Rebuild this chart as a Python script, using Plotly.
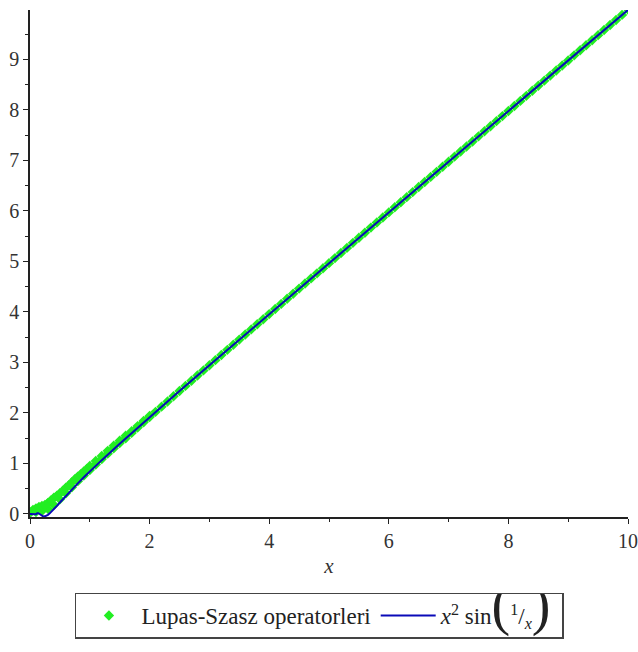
import plotly.graph_objects as go

# Blue curve x^2 sin(1/x)
curve_x = [0, 0.02, 0.04, 0.06, 0.08, 0.1, 0.12, 0.14, 0.16, 0.18, 0.2, 0.22, 0.25, 0.28,
           0.3, 0.33, 0.36, 0.4, 0.45, 0.5, 0.6, 0.7, 0.8, 0.9, 1.0, 1.2, 1.5, 2, 2.5, 3,
           4, 5, 6, 7, 8, 9, 10]
curve_y = [0, -0.0001, -0.0002, -0.0029, -0.0004, -0.0054, 0.0126, 0.0148, -0.0008, -0.0215,
           -0.0384, -0.0477, -0.0473, -0.0326, -0.0171, 0.0121, 0.0461, 0.0958, 0.161, 0.227,
           0.358, 0.485, 0.607, 0.726, 0.841, 1.066, 1.391, 1.918, 2.434, 2.945,
           3.958, 4.967, 5.972, 6.976, 7.979, 8.981, 9.983]

# Green Lupas-Szasz operator points (main band)
lupas_x = [round(0.1 * i, 1) for i in range(101)]
lupas_y = [0.02, 0.04, 0.06, 0.10, 0.18, 0.29, 0.41, 0.53, 0.65, 0.76,
           0.87, 0.98, 1.09, 1.195, 1.30, 1.405, 1.50, 1.605, 1.71, 1.815,
           1.92, 2.022, 2.125, 2.228, 2.331, 2.434, 2.536, 2.639, 2.741, 2.843,
           2.945, 3.046, 3.148, 3.250, 3.351, 3.453, 3.554, 3.655, 3.756, 3.857,
           3.958, 4.059, 4.160, 4.261, 4.362, 4.463, 4.564, 4.665, 4.765, 4.866,
           4.967, 5.067, 5.168, 5.269, 5.369, 5.470, 5.570, 5.671, 5.771, 5.872,
           5.972, 6.073, 6.173, 6.274, 6.374, 6.474, 6.575, 6.675, 6.775, 6.876,
           6.976, 7.077, 7.177, 7.277, 7.377, 7.478, 7.578, 7.678, 7.779, 7.879,
           7.979, 8.079, 8.180, 8.280, 8.380, 8.480, 8.581, 8.681, 8.781, 8.881,
           8.981, 9.082, 9.182, 9.282, 9.382, 9.482, 9.583, 9.683, 9.783, 9.883,
           9.990]

# Green points spreading above the curve near zero
lupas_upper_x = [0, 0.05, 0.1, 0.15, 0.2, 0.25, 0.3, 0.35, 0.4, 0.45, 0.5, 0.55, 0.6, 0.65,
                 0.7, 0.75, 0.8, 0.85, 0.9, 0.95, 1.0, 1.1, 1.2, 1.3, 1.4, 1.5, 1.6, 1.7,
                 1.8, 1.9, 2.0]
lupas_upper_y = [0.04, 0.08, 0.11, 0.14, 0.16, 0.18, 0.22, 0.27, 0.32, 0.36, 0.41, 0.46, 0.52,
                 0.57, 0.63, 0.69, 0.74, 0.79, 0.84, 0.89, 0.95, 1.05, 1.15, 1.25, 1.35, 1.45,
                 1.55, 1.64, 1.74, 1.84, 1.94]

x_ticks = [0, 2, 4, 6, 8, 10]
y_ticks = [0, 1, 2, 3, 4, 5, 6, 7, 8, 9]

GREEN = "#22ee22"
BLUE = "#0a0ab8"
FONT = "Liberation Serif"
TICKFONT = dict(family=FONT, size=20, color="#333")

fig = go.Figure()
fig.add_trace(go.Scatter(
    x=lupas_x + lupas_upper_x, y=lupas_y + lupas_upper_y,
    mode="markers", name="Lupas-Szasz operatorleri",
    marker=dict(symbol="diamond", size=8, color=GREEN, line=dict(width=0)),
))
fig.add_trace(go.Scatter(
    x=curve_x, y=curve_y, mode="lines",
    name="<i>x</i><sup>2</sup> sin<span style='font-size:56px'>(</span>"
         "<sup>1</sup>/<sub><i>x</i></sub><span style='font-size:56px'>)</span>&nbsp;",
    line=dict(color=BLUE, width=2),
))

fig.update_layout(
    width=638, height=652,
    margin=dict(l=30, r=10, t=10, b=135),
    paper_bgcolor="white", plot_bgcolor="white",
    font=dict(family=FONT, size=16, color="#333"),
    showlegend=True,
    legend=dict(
        orientation="h", x=0.484, xanchor="center", y=-0.149, yanchor="top",
        bordercolor="#444", borderwidth=1.5, font=dict(family=FONT, size=23, color="#222"),
        itemwidth=55,
    ),
    xaxis=dict(
        range=[0, 10], tickvals=x_ticks, ticktext=[str(v) for v in x_ticks],
        automargin=False, tickfont=TICKFONT,
        showgrid=False, zeroline=False, showline=True, linecolor="#222", linewidth=1.5,
        ticks="outside", ticklen=5, tickwidth=1.2, tickcolor="#222",
        minor=dict(dtick=1, ticks="outside", ticklen=3, tickcolor="#222"),
        title=dict(text="<i>x</i>", standoff=8, font=dict(family=FONT, size=21, color="#333")),
    ),
    yaxis=dict(
        range=[-0.06, 9.98], tickvals=y_ticks, ticktext=[str(v) for v in y_ticks],
        automargin=False, tickfont=TICKFONT,
        showgrid=False, zeroline=False, showline=True, linecolor="#222", linewidth=1.5,
        ticks="outside", ticklen=5, tickwidth=1.2, tickcolor="#222",
        minor=dict(dtick=0.5, ticks="outside", ticklen=3, tickcolor="#222"),
    ),
)

fig.write_html("out.html")
